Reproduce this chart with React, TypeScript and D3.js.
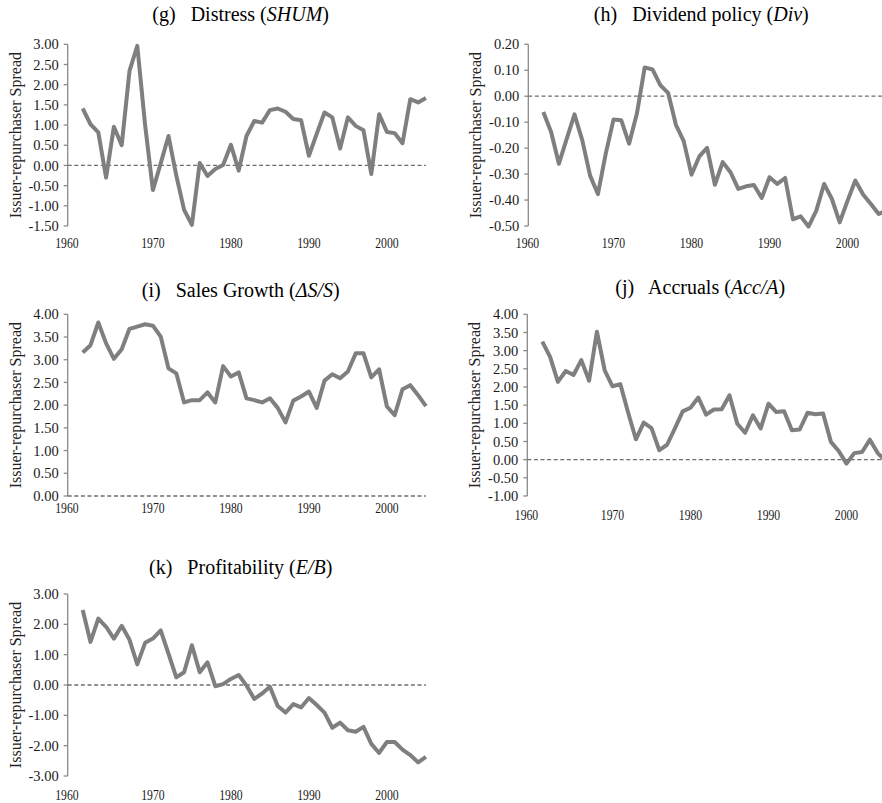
import React from "react";
import * as d3 from "d3";

const years = [1961, 1962, 1963, 1964, 1965, 1966, 1967, 1968, 1969, 1970, 1971, 1972, 1973, 1974, 1975, 1976, 1977, 1978, 1979, 1980, 1981, 1982, 1983, 1984, 1985, 1986, 1987, 1988, 1989, 1990, 1991, 1992, 1993, 1994, 1995, 1996, 1997, 1998, 1999, 2000, 2001, 2002, 2003, 2004, 2005];
const yearTicks = [1960, 1970, 1980, 1990, 2000];

const distress = [1.41, 1.02, 0.82, -0.30, 0.96, 0.50, 2.34, 2.96, 1.00, -0.61, 0.05, 0.73, -0.25, -1.10, -1.47, 0.06, -0.26, -0.09, 0.01, 0.51, -0.13, 0.73, 1.10, 1.06, 1.37, 1.41, 1.33, 1.15, 1.12, 0.24, 0.78, 1.31, 1.19, 0.42, 1.19, 0.98, 0.87, -0.21, 1.27, 0.83, 0.80, 0.55, 1.64, 1.56, 1.67];
const dividend = [-0.061, -0.138, -0.26, -0.164, -0.07, -0.17, -0.306, -0.377, -0.222, -0.09, -0.093, -0.183, -0.067, 0.111, 0.103, 0.043, 0.013, -0.11, -0.173, -0.302, -0.232, -0.199, -0.341, -0.254, -0.293, -0.357, -0.347, -0.342, -0.392, -0.312, -0.338, -0.315, -0.474, -0.463, -0.502, -0.441, -0.338, -0.396, -0.486, -0.403, -0.325, -0.379, -0.415, -0.454, -0.44];
const salesGrowth = [3.16, 3.32, 3.82, 3.36, 3.02, 3.23, 3.68, 3.73, 3.78, 3.75, 3.51, 2.81, 2.70, 2.06, 2.11, 2.11, 2.28, 2.06, 2.86, 2.63, 2.72, 2.15, 2.11, 2.06, 2.15, 1.94, 1.62, 2.10, 2.19, 2.30, 1.94, 2.54, 2.68, 2.59, 2.74, 3.14, 3.14, 2.61, 2.79, 1.97, 1.78, 2.35, 2.44, 2.22, 1.98];
const accruals = [3.25, 2.83, 2.14, 2.44, 2.33, 2.74, 2.17, 3.52, 2.46, 2.02, 2.08, 1.30, 0.56, 1.02, 0.87, 0.26, 0.41, 0.86, 1.33, 1.43, 1.71, 1.24, 1.38, 1.39, 1.77, 0.99, 0.74, 1.22, 0.86, 1.54, 1.31, 1.33, 0.81, 0.83, 1.29, 1.25, 1.27, 0.49, 0.24, -0.11, 0.18, 0.21, 0.55, 0.18, -0.03];
const profitability = [2.47, 1.42, 2.19, 1.92, 1.53, 1.95, 1.49, 0.68, 1.39, 1.53, 1.80, 1.03, 0.25, 0.42, 1.31, 0.42, 0.75, -0.04, 0.03, 0.20, 0.33, -0.02, -0.46, -0.28, -0.06, -0.69, -0.91, -0.63, -0.74, -0.43, -0.66, -0.91, -1.41, -1.24, -1.49, -1.54, -1.38, -1.94, -2.24, -1.88, -1.88, -2.13, -2.31, -2.55, -2.37];

const ticksG = [-1.5, -1.0, -0.5, 0, 0.5, 1.0, 1.5, 2.0, 2.5, 3.0];
const ticksH = [-0.5, -0.4, -0.3, -0.2, -0.1, 0, 0.1, 0.2];
const ticksI = [0, 0.5, 1.0, 1.5, 2.0, 2.5, 3.0, 3.5, 4.0];
const ticksJ = [-1.0, -0.5, 0, 0.5, 1.0, 1.5, 2.0, 2.5, 3.0, 3.5, 4.0];
const ticksK = [-3, -2, -1, 0, 1, 2, 3];

const yTitle = "Issuer-repurchaser Spread";
const FONT = "'Liberation Serif', 'Times New Roman', serif";

type PanelProps = {
  x0: number;
  top: number;
  bottom: number;
  letter: string;
  name: string;
  italic: string;
  values: number[];
  ticks: number[];
  titleY: number;
  yearLabelY: number;
};

function Panel({ x0, top, bottom, letter, name, italic, values, ticks, titleY, yearLabelY }: PanelProps) {
  const x = d3.scaleLinear().domain([1961, 2005]).range([x0 + 15, x0 + 15 + 44 * 7.8]);
  const y = d3
    .scaleLinear()
    .domain([ticks[0], ticks[ticks.length - 1]])
    .range([bottom, top]);
  const line = d3
    .line<number>()
    .x((_, i) => x(years[i]))
    .y((d) => y(d));
  const xEnd = x(2005);
  return (
    <g>
      <text
        x={x0 + 173}
        y={titleY}
        textAnchor="middle"
        fontFamily={FONT}
        fontSize={20}
        fill="#000"
        style={{ whiteSpace: "pre" }}
      >
        {`(${letter})\u2002 ${name} (`}
        <tspan fontStyle="italic">{italic}</tspan>
        {")"}
      </text>
      <text
        transform={`translate(${x0 - 52.5},${(top + bottom) / 2}) rotate(-90)`}
        textAnchor="middle"
        dy="0.35em"
        fontFamily={FONT}
        fontSize={16}
        fill="#222"
      >
        {yTitle}
      </text>
      {ticks.map((t) => (
        <g key={t}>
          <line x1={x0 - 4} x2={x0} y1={y(t)} y2={y(t)} stroke="#8a8a8a" strokeWidth={1.3} />
          <text
            x={x0 - 9}
            y={y(t)}
            dy="0.35em"
            textAnchor="end"
            fontFamily={FONT}
            fontSize={14.5}
            fill="#1a1a1a"
          >
            {t.toFixed(2)}
          </text>
        </g>
      ))}
      <line x1={x0} x2={x0} y1={top} y2={bottom} stroke="#8a8a8a" strokeWidth={1.3} />
      <line
        x1={x0}
        x2={xEnd}
        y1={y(0)}
        y2={y(0)}
        stroke="#6e6e6e"
        strokeWidth={1.3}
        strokeDasharray="4,2.6"
      />
      {yearTicks.map((yr) => (
        <text
          key={yr}
          transform={`translate(${x(yr) - (yr === 1960 ? 8 : 0)},${yearLabelY}) scale(0.78,1)`}
          textAnchor="middle"
          fontFamily={FONT}
          fontSize={15}
          fill="#1a1a1a"
        >
          {yr}
        </text>
      ))}
      <path d={line(values) || ""} fill="none" stroke="#7f7f7f" strokeWidth={4} strokeLinejoin="round" />
    </g>
  );
}

export default function App() {
  return (
    <svg
      width={882}
      height={803}
      style={{ position: "absolute", left: 0, top: 0, background: "#fff" }}
    >
      <rect width={882} height={803} fill="#fff" />
      <Panel x0={67.7} top={44.3} bottom={226} letter="g" name="Distress" italic="SHUM" values={distress} ticks={ticksG} titleY={20.5} yearLabelY={248} />
      <Panel x0={528.3} top={44.3} bottom={226} letter="h" name="Dividend policy" italic="Div" values={dividend} ticks={ticksH} titleY={20.5} yearLabelY={248} />
      <Panel x0={67.7} top={314.3} bottom={496} letter="i" name="Sales Growth" italic={"\u0394S/S"} values={salesGrowth} ticks={ticksI} titleY={296.5} yearLabelY={513} />
      <Panel x0={527.3} top={314.3} bottom={496} letter="j" name="Accruals" italic="Acc/A" values={accruals} ticks={ticksJ} titleY={293.5} yearLabelY={520} />
      <Panel x0={67.7} top={594} bottom={776} letter="k" name="Profitability" italic="E/B" values={profitability} ticks={ticksK} titleY={573.5} yearLabelY={800} />
    </svg>
  );
}
